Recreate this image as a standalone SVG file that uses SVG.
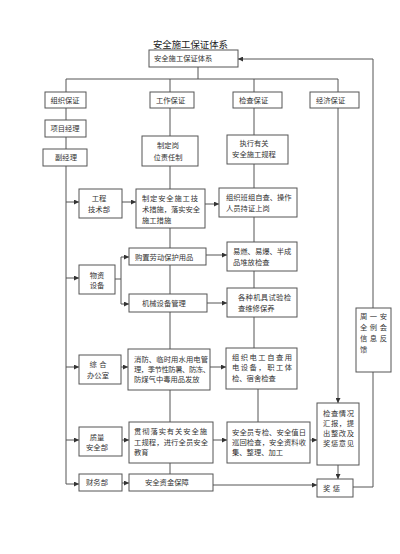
<svg xmlns="http://www.w3.org/2000/svg" width="400" height="554" viewBox="0 0 400 554">
<defs>
<marker id="ah" viewBox="0 0 6 6" refX="6" refY="3" markerWidth="5" markerHeight="5" orient="auto" markerUnits="userSpaceOnUse"><path d="M0,0 L6,3 L0,6 z" fill="#333"/></marker>
<style>
rect{fill:#fff;stroke:#555;stroke-width:1}
text{font-family:"Noto Sans CJK SC","Noto Sans",sans-serif;font-size:7.3px;fill:#333}
.c{text-anchor:middle}
.t{font-size:9.4px;fill:#222}
#connectors line,#connectors polyline{stroke:#555;stroke-width:1;fill:none}
.a{marker-end:url(#ah)}
</style>
</defs>
<rect x="0" y="0" width="400" height="554" style="fill:#fff;stroke:none"/>
<text class="t c" x="190.5" y="47.5">安全施工保证体系</text>
<g id="connectors">
<line x1="198" y1="67" x2="198" y2="79"/>
<line x1="66" y1="79" x2="338" y2="79"/>
<line x1="66" y1="79" x2="66" y2="92"/>
<line x1="170" y1="79" x2="170" y2="92"/>
<line x1="254" y1="79" x2="254" y2="92"/>
<line x1="338" y1="79" x2="338" y2="92"/>
<line x1="66" y1="108" x2="66" y2="120"/>
<line x1="66" y1="137" x2="66" y2="149"/>
<polyline points="66,166 66,484 79,484" class="a"/>
<line x1="66" y1="202" x2="79" y2="202" class="a"/>
<line x1="66" y1="278" x2="79" y2="278" class="a"/>
<line x1="66" y1="367" x2="79" y2="367" class="a"/>
<line x1="66" y1="440" x2="79" y2="440" class="a"/>
<line x1="170" y1="108" x2="170" y2="136"/>
<line x1="170" y1="166" x2="170" y2="189"/>
<line x1="170" y1="228" x2="170" y2="248"/>
<line x1="170" y1="265" x2="170" y2="294"/>
<line x1="170" y1="312" x2="170" y2="349"/>
<line x1="170" y1="390" x2="170" y2="422"/>
<line x1="170" y1="463" x2="170" y2="474"/>
<line x1="254" y1="108" x2="254" y2="135"/>
<line x1="254" y1="164" x2="254" y2="188"/>
<line x1="254" y1="217" x2="254" y2="242"/>
<line x1="254" y1="271" x2="254" y2="288"/>
<line x1="254" y1="317" x2="254" y2="348"/>
<line x1="258" y1="389" x2="258" y2="422"/>
<line x1="338" y1="108" x2="338" y2="403" class="a"/>
<line x1="338" y1="465" x2="338" y2="479" class="a"/>
<line x1="122" y1="202" x2="136" y2="202" class="a"/>
<line x1="205" y1="204" x2="219" y2="204" class="a"/>
<line x1="115" y1="279" x2="121" y2="279"/>
<line x1="121" y1="257" x2="121" y2="304"/>
<line x1="121" y1="257" x2="129" y2="257" class="a"/>
<line x1="121" y1="304" x2="129" y2="304" class="a"/>
<line x1="206" y1="255" x2="227" y2="255" class="a"/>
<line x1="207" y1="303" x2="227" y2="303" class="a"/>
<line x1="121" y1="367" x2="128" y2="367" class="a"/>
<line x1="210" y1="367" x2="226" y2="367" class="a"/>
<line x1="122" y1="440" x2="129" y2="440" class="a"/>
<line x1="213" y1="440" x2="227" y2="440" class="a"/>
<line x1="310" y1="440" x2="317" y2="440" class="a"/>
<line x1="122" y1="483" x2="129" y2="483" class="a"/>
<line x1="213" y1="485" x2="317" y2="485" class="a"/>
<polyline points="353,487 373,487 373,372"/>
<polyline points="373,308 373,59 238,59" class="a"/>
</g>
<g id="n-top"><rect x="149" y="50" width="89" height="17"/><text x="154" y="61.2">安全施工保证体系</text></g>
<g id="n-org"><rect x="45" y="92" width="41" height="16"/><text class="c" x="65" y="102.7">组织保证</text></g>
<g id="n-work"><rect x="150" y="92" width="44" height="16"/><text x="156" y="102.7">工作保证</text></g>
<g id="n-check"><rect x="233" y="92" width="49" height="16"/><text x="239" y="102.7">检查保证</text></g>
<g id="n-econ"><rect x="310" y="92" width="49" height="16"/><text x="316" y="102.7">经济保证</text></g>
<g id="n-pm"><rect x="45" y="120" width="41" height="17"/><text class="c" x="65" y="131.2">项目经理</text></g>
<g id="n-dpm"><rect x="43" y="149" width="44" height="17"/><text class="c" x="66" y="160.2">副经理</text></g>
<g id="n-post"><rect x="142" y="136" width="56" height="30"/><text class="c" x="168" y="147.7">制定岗</text><text class="c" x="168" y="159.7">位责任制</text></g>
<g id="n-exec"><rect x="227" y="135" width="61" height="29"/><text class="c" x="254" y="145.7">执行有关</text><text class="c" x="254" y="156.7">安全施工规程</text></g>
<g id="n-eng"><rect x="79" y="189" width="43" height="29"/><text class="c" x="99" y="200.7">工程</text><text class="c" x="99" y="211.7">技术部</text></g>
<g id="n-tech"><rect x="136" y="189" width="69" height="39"/><text x="142" y="201" textLength="56" lengthAdjust="spacing">制定安全施工技</text><text x="142" y="212" textLength="58" lengthAdjust="spacing">术措施，落实安全</text><text x="142" y="223">施工措施</text></g>
<g id="n-team"><rect x="219" y="188" width="78" height="29"/><text x="226" y="199.7">组织班组自查、操作</text><text x="226" y="210.7">人员持证上岗</text></g>
<g id="n-buy"><rect x="129" y="248" width="77" height="17"/><text x="135" y="259.5">购置劳动保护用品</text></g>
<g id="n-fire-check"><rect x="227" y="242" width="70" height="29"/><text x="233" y="254">易燃、易爆、半成</text><text x="233" y="264.5">品堆放检查</text></g>
<g id="n-mat"><rect x="79" y="265" width="36" height="29"/><text class="c" x="97" y="277.7">物资</text><text class="c" x="97" y="287.7">设备</text></g>
<g id="n-mach"><rect x="129" y="294" width="78" height="18"/><text x="142" y="305.7">机械设备管理</text></g>
<g id="n-tools"><rect x="227" y="288" width="70" height="29"/><text x="238" y="299.7" textLength="53" lengthAdjust="spacing">各种机具试验检</text><text x="238" y="310.7">查维修保养</text></g>
<g id="n-weekly"><rect x="356" y="308" width="35" height="64"/><text x="360" y="318.7" textLength="27" lengthAdjust="spacing">周一安</text><text x="360" y="329.7" textLength="27" lengthAdjust="spacing">全例会</text><text x="360" y="340.7" textLength="27" lengthAdjust="spacing">信息反</text><text x="360" y="351.7">馈</text></g>
<g id="n-office"><rect x="79" y="355" width="42" height="29"/><text class="c" x="98" y="366.7" textLength="17" lengthAdjust="spacing">综合</text><text class="c" x="98" y="377.7">办公室</text></g>
<g id="n-fire"><rect x="128" y="349" width="82" height="41"/><text x="134" y="361.7" textLength="74" lengthAdjust="spacing">消防、临时用水用电管</text><text x="134" y="371.7" textLength="76" lengthAdjust="spacing">理，季节性防暑、防冻、</text><text x="134" y="381.7">防煤气中毒用品发放</text></g>
<g id="n-elec"><rect x="226" y="348" width="71" height="41"/><text x="232" y="359.7" textLength="60" lengthAdjust="spacing">组织电工自查用</text><text x="232" y="370.2" textLength="60" lengthAdjust="spacing">电设备，职工体</text><text x="232" y="380.7">检、宿舍检查</text></g>
<g id="n-qa"><rect x="79" y="427" width="43" height="29"/><text class="c" x="97" y="439.7">质量</text><text class="c" x="97" y="449.7">安全部</text></g>
<g id="n-edu"><rect x="129" y="422" width="84" height="41"/><text x="134" y="433.7" textLength="73" lengthAdjust="spacing">贯彻落实有关安全施</text><text x="134" y="444.7" textLength="74" lengthAdjust="spacing">工规程，进行全员安全</text><text x="134" y="454.7">教育</text></g>
<g id="n-inspect"><rect x="227" y="422" width="83" height="41"/><text x="232" y="434.7" textLength="74" lengthAdjust="spacing">安全员专检、安全值日</text><text x="232" y="444.7" textLength="74" lengthAdjust="spacing">巡回检查，安全资料收</text><text x="232" y="454.7">集、整理、加工</text></g>
<g id="n-report"><rect x="317" y="403" width="42" height="62"/><text x="323" y="415.7" textLength="31" lengthAdjust="spacing">检查情况</text><text x="323" y="425.7" textLength="31" lengthAdjust="spacing">汇报，提</text><text x="323" y="435.7" textLength="31" lengthAdjust="spacing">出整改及</text><text x="323" y="445.7" textLength="31" lengthAdjust="spacing">奖惩意见</text></g>
<g id="n-reward"><rect x="317" y="479" width="36" height="18"/><text x="323" y="490.7" textLength="17" lengthAdjust="spacing">奖惩</text></g>
<g id="n-fin"><rect x="79" y="474" width="43" height="17"/><text class="c" x="97" y="485.2">财务部</text></g>
<g id="n-fund"><rect x="129" y="474" width="84" height="17"/><text x="145" y="485.2">安全资金保障</text></g>
</svg>
